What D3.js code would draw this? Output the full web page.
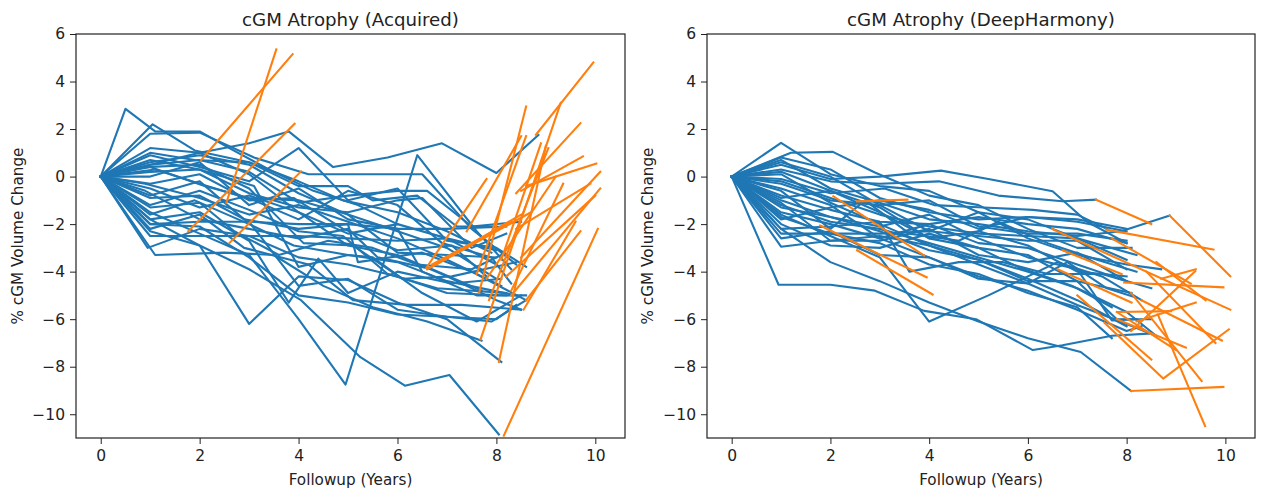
<!DOCTYPE html>
<html>
<head>
<meta charset="utf-8">
<script src="https://cdn.jsdelivr.net/npm/d3@7"></script>
<style>
  body { margin: 0; background: #fff; }
  svg { display: block; font-family: "DejaVu Sans", sans-serif; }
  .tick text { fill: #222; }
  .tick line { stroke: #222; }
</style>
</head>
<body>
<script>
const width = 1264;
const height = 496;

const titles = ["cGM Atrophy (Acquired)", "cGM Atrophy (DeepHarmony)"];
const xLabel = "Followup (Years)";
const yLabel = "% cGM Volume Change";
const xTicks = [0, 2, 4, 6, 8, 10];
const yTicks = [6, 4, 2, 0, -2, -4, -6, -8, -10];

// blue trajectories, acquired images: [years, % change]
const acquiredBlue = [
  [[0,0],[0.5,2.85],[1.1,1.9],[2,1.9],[2.6,1.2],[3.4,0.3],[4.3,-0.6],[5.2,-1.2],[6,-2.0]],
  [[0,0],[1.05,2.2],[1.9,1.1],[3,0.6],[4,-0.2],[4.9,-1.0],[6,-1.5],[7,-2.3],[7.9,-3.2]],
  [[0,0],[1,1.2],[2,1.0],[3,1.4],[3.8,1.9],[4.7,0.4],[5.8,0.8],[6.9,1.4],[8.0,0.15],[8.85,1.75]],
  [[0,0],[1,1.8],[2,1.85],[3.1,0.8],[4.2,0.1],[5.2,0.1],[6.5,0.1],[7.5,-2.2],[8.4,-3.7]],
  [[0,0],[1,0.9],[2,0.4],[3,-0.2],[4,1.2],[5,-1.0],[6,-0.5],[7,-2.7],[8,-3.0],[8.6,-3.8]],
  [[0,0],[1,0.5],[2,0.7],[3,0.2],[4,-1.1],[5,-0.8],[6,-0.6],[6.6,-0.6],[7.5,-2.1],[8.5,-1.9]],
  [[0,0],[1,0.6],[2,0.9],[3,0.5],[4,-0.7],[5,-1.6],[6,-2.3],[7,-3.0],[8,-4.3]],
  [[0,0],[0.9,-0.3],[2,-0.9],[3,-1.6],[4,-1.2],[5,-1.9],[6,-2.6],[7,-3.5],[8.1,-4.6]],
  [[0,0],[1,-0.8],[2,-0.2],[2.9,-1.8],[4,-2.2],[5,-2.0],[5.2,-3.6],[6.5,-3.2],[7.5,-4.0],[8.6,-5.2]],
  [[0,0],[1,-1.5],[2,-2.4],[3,-3.3],[4,-6.0],[4.95,-8.75],[6.4,0.9],[7.6,-2.3],[8.3,-3.9]],
  [[0,0],[1,-1.8],[2,-2.9],[3,-3.9],[4.05,-5.2],[5.25,-7.6],[6.15,-8.8],[7.05,-8.35],[8.05,-10.85]],
  [[0,0],[1,-2.3],[2,-2.9],[3,-6.2],[4,-4.2],[5,-4.35],[6,-5.3],[7,-6.0],[8.1,-7.8]],
  [[0,0],[1.1,-3.3],[2.5,-3.2],[3.5,-3.3],[4.5,-4.6],[5.5,-5.5],[6.6,-6.1],[7.7,-6.9]],
  [[0,0],[0.95,-3.0],[2,-2.2],[3,-2.5],[4,-3.4],[5,-3.7],[6,-4.2],[7,-4.9],[8.2,-5.0]],
  [[0,0],[1,-2.5],[2,-2.5],[3,-2.5],[4,-2.5],[5,-2.6],[6,-2.7],[7,-2.6],[8,-3.1]],
  [[0,0],[1,-2.0],[2,-1.9],[3,-1.9],[4,-2.0],[5,-2.0],[6,-2.2],[7,-2.2],[8.2,-2.1]],
  [[0,0],[1,-1.2],[2,-0.6],[3,-1.4],[4,-2.3],[4.9,-2.5],[5.8,-4.1],[6.8,-4.7],[8.2,-4.9]],
  [[0,0],[1.1,0.3],[2,-0.3],[3.1,-1.0],[4,-1.8],[5,-0.6],[6,-1.2],[6.9,-2.8],[7.9,-3.4],[8.3,-4.5]],
  [[0,0],[1,-0.5],[2,-1.3],[3,-0.8],[4,-1.5],[5,-2.9],[6,-3.3],[7,-4.2],[8,-5.2],[8.5,-5.6]],
  [[0,0],[1,0.2],[2,0.3],[3.1,-0.4],[4,-3.8],[5,-3.3],[5.5,-3.4],[6.5,-4.9],[7.6,-6.1],[8.5,-5.0]],
  [[0,0],[1,-1.8],[2,-1.5],[3,-2.7],[3.8,-5.3],[4.4,-3.45],[5.0,-4.9],[6.0,-4.0],[7.1,-4.5],[8.1,-4.3]],
  [[0,0],[1,-0.9],[2,-0.8],[3,-1.9],[4,-4.6],[5,-4.3],[6,-5.6],[7,-5.9],[7.9,-6.1],[8.6,-5.2]],
  [[0,0],[1,0.4],[2.1,-0.4],[3,-0.9],[4,-1.0],[5,-1.6],[6,-3.2],[7,-3.3],[8,-3.4]],
  [[0,0],[1,-1.6],[1.9,-1.0],[3,-2.0],[3.9,-2.9],[5,-3.3],[6,-3.6],[7,-4.4],[8.4,-5.0]],
  [[0,0],[1,0.0],[2,0.6],[3,-1.2],[4,-0.5],[5,-1.8],[6,-2.2],[6.5,-4.0],[7.6,-5.0],[8.6,-5.0]],
  [[0,0],[1,-2.2],[2,-1.6],[2.9,-3.0],[4.2,-3.7],[5.1,-5.2],[6.2,-5.4],[7.3,-5.4],[8.5,-5.6]],
  [[0,0],[1,0.7],[2,0.3],[3,-0.7],[4,-1.3],[5,-1.5],[6,-1.0],[6.5,-0.9],[7.5,-3.0],[8.2,-2.4]],
  [[0,0],[0.9,-0.6],[2,-1.8],[3,-2.2],[4,-2.6],[5,-2.2],[5.6,-3.4],[6.7,-3.9],[7.7,-4.8]],
  [[0,0],[1,-1.3],[2,-1.1],[2.7,-2.3],[3.6,-3.3],[4.6,-2.7],[5.5,-3.0],[6.4,-3.7],[7.5,-3.9],[8.1,-3.3]],
  [[0,0],[1,0.5],[2,1.0],[3,0.1],[4,-1.5],[5,-2.4],[6,-2.0],[7,-2.6],[8,-3.7]],
  [[0,0],[1,-2.0],[2,-2.1],[3,-3.4],[4,-5.0],[5,-5.3],[6,-5.8],[7,-5.9],[8,-6.0],[8.4,-5.4]],
  [[0,0],[1,1.0],[1.9,0.7],[3,0.6],[4,-0.4],[5,-0.4],[5.5,-1.0],[6.4,-0.8],[7.2,-2.1],[8.0,-2.1]],
  [[0,0],[1,-0.3],[2,0.1],[3,-1.0],[3.9,-0.9],[4.9,-2.2],[6,-3.1],[7.1,-2.9],[7.8,-4.2]],
  [[0,0],[0.9,0.4],[2,0.5],[3,-0.5],[4.1,-2.8],[5.1,-2.9],[6.1,-4.3],[7.1,-4.2],[8.4,-3.6]]
];

// orange segments, acquired images
const acquiredOrange = [
  [[1.77,-2.3],[3.92,2.22]],
  [[2.03,0.7],[3.88,5.15]],
  [[2.54,-1.1],[3.55,5.35]],
  [[2.6,-2.8],[4.05,0.22]],
  [[6.58,-3.85],[7.8,-0.1]],
  [[6.6,-3.9],[8.5,-1.6]],
  [[6.7,-3.7],[8.3,-1.9]],
  [[7.65,-4.9],[8.6,2.95]],
  [[7.6,-4.1],[8.6,1.7]],
  [[8.15,-10.9],[10.05,-2.2]],
  [[8.05,-7.8],[9.0,1.3]],
  [[7.68,-6.85],[9.3,3.1]],
  [[8.8,1.76],[9.96,4.8]],
  [[8.6,-0.4],[10.02,0.55]],
  [[8.5,-0.6],[9.75,0.85]],
  [[8.5,-3.4],[10.1,0.2]],
  [[8.3,-5.0],[10.1,-0.5]],
  [[8.4,-0.7],[9.7,2.25]],
  [[8.3,-4.8],[9.35,-0.3]],
  [[8.55,-5.6],[9.6,-1.9]],
  [[8.6,-5.2],[9.7,-2.3]],
  [[7.85,-5.2],[9.05,1.2]],
  [[8.1,-3.5],[8.9,1.4]],
  [[7.4,-2.3],[8.5,1.7]],
  [[8.2,-4.2],[10.0,-0.8]],
  [[7.8,-4.3],[9.2,0.0]],
  [[8.4,-2.2],[9.9,-0.3]],
  [[6.7,-3.8],[8.7,-1.5]]
];

// blue trajectories, DeepHarmony
const harmonyBlue = [
  [[0,0],[0.95,-4.55],[2,-4.55],[2.9,-4.8],[3.9,-5.65],[4.95,-6.0],[6.1,-7.3],[6.7,-7.1],[7.7,-6.7],[8.5,-6.6]],
  [[0,0],[1,-1.6],[2,-2.5],[3,-3.4],[4,-6.1],[5.2,-5.0],[6.6,-3.6],[7.5,-4.2],[8.3,-5.2]],
  [[0,0],[1,-2.2],[2,-3.6],[3,-4.4],[4,-5.3],[5,-6.1],[6,-6.8],[7.07,-7.38],[8.09,-9.02]],
  [[0,0],[1,1.42],[2,0.1],[3,-0.4],[4,-0.6],[5,-1.5],[6,-1.8],[7,-2.6],[8,-3.5]],
  [[0,0],[1.2,1.0],[2.05,1.04],[2.9,0.17],[4,-0.8],[5,-1.2],[6,-2.2],[7,-3.0],[8.1,-3.0]],
  [[0,0],[1,0.5],[2,-0.1],[3,0.0],[4.24,0.25],[5.2,-0.1],[6.5,-0.62],[7.2,-1.9],[8.0,-2.8]],
  [[0,0],[1,0.3],[2,-0.2],[3,-0.3],[4.2,-0.2],[5.4,-0.8],[6.7,-1.04],[7.38,-0.97]],
  [[0,0],[1,-0.2],[2,-0.9],[3,-1.6],[4,-2.1],[5,-2.4],[6,-2.5],[7,-2.6],[8.2,-3.3]],
  [[0,0],[1,-0.8],[2,-1.4],[3,-1.9],[4,-2.0],[5,-2.8],[6,-3.0],[7,-3.7],[8,-4.4]],
  [[0,0],[1,-1.2],[2,-1.9],[3,-2.2],[4,-2.8],[5,-3.4],[6,-4.0],[7,-4.7],[8,-5.7],[8.6,-6.7]],
  [[0,0],[1,-2.95],[2,-2.7],[3,-2.5],[4,-2.9],[5,-3.5],[6,-4.3],[7,-5.2],[8,-6.3]],
  [[0,0],[1,-2.4],[2,-2.4],[3,-2.4],[4,-2.3],[5,-2.5],[6,-2.7],[7,-2.7],[8,-3.9]],
  [[0,0],[1,0.7],[2,-0.5],[3,-1.1],[4,-1.8],[5,-2.0],[6,-2.3],[7,-2.5],[7.89,-2.3],[8.87,-1.64]],
  [[0,0],[1,-0.5],[2,-1.2],[3,-2.6],[4,-2.0],[5,-1.7],[6,-2.0],[7,-2.2],[8,-2.8]],
  [[0,0],[1,-1.0],[2,-1.7],[3,-2.3],[4,-3.1],[5,-3.5],[6,-4.4],[7,-4.4],[7.8,-6.0],[8.5,-6.0]],
  [[0,0],[1,-1.8],[2,-1.3],[3,-1.0],[4,-1.4],[5,-2.2],[6,-1.7],[7,-1.9],[8,-2.3]],
  [[0,0],[1,0.2],[2,-0.6],[3,-1.3],[4,-2.6],[5,-3.0],[6,-3.3],[7,-4.4],[8.1,-4.9]],
  [[0,0],[1,-0.6],[2,-2.2],[2.7,-1.0],[3.6,-2.4],[4.6,-2.7],[5.4,-1.9],[6.4,-2.8],[7.4,-3.5],[8.2,-4.0]],
  [[0,0],[1,-1.5],[2,-2.0],[3,-2.6],[4,-3.4],[5,-4.2],[6,-4.8],[7,-5.6],[8,-6.5],[8.3,-6.3]],
  [[0,0],[1,-2.0],[2,-2.9],[3,-3.0],[4,-2.4],[5,-3.0],[5.8,-3.8],[6.9,-4.6],[7.7,-5.5]],
  [[0,0],[1,0.8],[2,0.3],[3,-0.9],[4,-1.5],[5,-1.8],[6,-1.7],[7,-1.8],[8,-2.2]],
  [[0,0],[1,-0.3],[2,-1.0],[3,-1.2],[4,-2.3],[5,-1.5],[6,-2.6],[7,-3.3],[8,-3.7],[8.7,-3.9]],
  [[0,0],[1,-1.3],[2,-1.7],[3,-2.1],[4,-1.6],[5,-2.6],[6,-3.4],[7,-3.9],[7.7,-6.05],[8.2,-6.0]],
  [[0,0],[1,-0.9],[2,-0.6],[3,-1.5],[4,-2.6],[5,-2.3],[6,-2.9],[7,-4.0],[8,-4.2]],
  [[0,0],[1,0.1],[2,-1.1],[3,-2.0],[4,-2.9],[5,-3.7],[6,-4.5],[7,-5.4],[8,-6.2],[8.6,-6.7]],
  [[0,0],[1,-2.2],[2,-2.1],[3,-1.9],[3.6,-4.0],[4.6,-3.6],[5.5,-3.6],[6.4,-4.1],[7.5,-4.1],[8.5,-4.7]],
  [[0,0],[1,-0.1],[2,-0.7],[3.1,-0.5],[4.1,-1.2],[5.1,-1.3],[6.1,-1.4],[7.0,-1.6],[7.6,-2.2]],
  [[0,0],[1,-1.7],[2,-2.4],[3,-2.8],[4,-3.7],[5,-4.1],[6,-4.9],[7,-5.5],[7.7,-6.8]],
  [[0,0],[1,-2.6],[2,-2.3],[3,-3.3],[4,-3.4],[5,-4.3],[6,-4.5],[6.8,-3.6],[7.6,-4.7],[8.2,-5.1]],
  [[0,0],[1,0.6],[2,0.0],[3,-1.2],[4,-1.0],[5,-2.1],[6,-2.4],[7,-2.4],[8,-2.7]],
  [[0,0],[1,-1.1],[2,-2.7],[3,-2.7],[4,-2.2],[5,-3.3],[6,-3.6],[7,-3.2],[8,-4.4]]
];

// orange segments, DeepHarmony
const harmonyOrange = [
  [[1.79,-2.06],[3.95,-4.24]],
  [[2.06,-0.83],[3.9,-3.32]],
  [[2.54,-1.04],[3.56,-0.97]],
  [[2.54,-3.1],[4.07,-4.96]],
  [[7.38,-0.97],[8.5,-2.0]],
  [[7.58,-2.23],[9.76,-3.07]],
  [[6.49,-2.2],[10.1,-5.6]],
  [[8.87,-1.64],[10.1,-4.19]],
  [[8.09,-9.02],[9.96,-8.85]],
  [[8.63,-5.8],[9.59,-10.5]],
  [[7.55,-6.15],[8.74,-8.5],[10.07,-6.43]],
  [[8.09,-4.9],[9.52,-8.6]],
  [[7.0,-5.0],[8.5,-7.7]],
  [[8.3,-5.2],[9.93,-6.9]],
  [[8.09,-6.5],[9.39,-3.98]],
  [[7.95,-4.46],[9.96,-4.66]],
  [[7.82,-5.7],[8.9,-5.66]],
  [[6.7,-3.1],[7.9,-4.1]],
  [[6.6,-3.9],[8.1,-5.3]],
  [[7.8,-5.7],[9.0,-7.3]],
  [[8.4,-4.0],[9.8,-7.0]],
  [[8.2,-6.1],[9.4,-5.3]],
  [[8.6,-3.6],[9.6,-5.2]],
  [[7.8,-6.0],[9.2,-7.2]],
  [[8.7,-4.3],[9.4,-3.9]],
  [[7.7,-2.6],[9.3,-4.5]]
];

const svg = d3.select(document.body).append("svg")
  .attr("width", width)
  .attr("height", height);

const panels = [
  {x0: 76, x1: 625, title: titles[0], blue: acquiredBlue, orange: acquiredOrange, ylabX: 18},
  {x0: 707, x1: 1255, title: titles[1], blue: harmonyBlue, orange: harmonyOrange, ylabX: 648}
];
const plotTop = 34, plotBottom = 438;

panels.forEach((p, i) => {
  const x = d3.scaleLinear().domain([-0.5, 10.6]).range([p.x0, p.x1]);
  const y = d3.scaleLinear().domain([-11, 6]).range([plotBottom, plotTop]);
  const g = svg.append("g");

  const line = d3.line().x(d => x(d[0])).y(d => y(d[1]));

  const clipId = "clip" + i;
  g.append("clipPath").attr("id", clipId)
    .append("rect").attr("x", p.x0).attr("y", plotTop)
    .attr("width", p.x1 - p.x0).attr("height", plotBottom - plotTop);

  const marks = g.append("g").attr("clip-path", `url(#${clipId})`)
    .attr("fill", "none")
    .attr("stroke-width", 2.1)
    .attr("stroke-linejoin", "round")
    .attr("stroke-linecap", "square");

  marks.append("g").attr("stroke", "#1f77b4")
    .selectAll("path").data(p.blue).join("path").attr("d", line);
  marks.append("g").attr("stroke", "#ff7f0e")
    .selectAll("path").data(p.orange).join("path").attr("d", line);

  // axes
  g.append("g").attr("transform", `translate(0,${plotBottom})`)
    .call(d3.axisBottom(x).tickValues(xTicks).tickSize(6).tickPadding(6).tickFormat(d3.format("d")))
    .call(a => a.select(".domain").remove());
  g.append("g").attr("transform", `translate(${p.x0},0)`)
    .call(d3.axisLeft(y).tickValues(yTicks).tickSize(6).tickPadding(5)
      .tickFormat(d => d < 0 ? "\u2212" + Math.abs(d) : d))
    .call(a => a.select(".domain").remove());
  g.selectAll(".tick text").attr("font-family", "DejaVu Sans").attr("font-size", 15.5);

  g.append("rect")
    .attr("x", p.x0).attr("y", plotTop)
    .attr("width", p.x1 - p.x0).attr("height", plotBottom - plotTop)
    .attr("fill", "none").attr("stroke", "#222").attr("stroke-width", 1.2);

  g.append("text")
    .attr("x", (p.x0 + p.x1) / 2).attr("y", 26)
    .attr("text-anchor", "middle")
    .attr("font-size", 18.2).attr("fill", "#222")
    .text(p.title);

  g.append("text")
    .attr("x", (p.x0 + p.x1) / 2).attr("y", 485)
    .attr("text-anchor", "middle")
    .attr("font-size", 15.2).attr("fill", "#222")
    .text(xLabel);

  g.append("text")
    .attr("transform", `translate(${p.ylabX + 5},${(plotTop + plotBottom) / 2}) rotate(-90)`)
    .attr("text-anchor", "middle")
    .attr("font-size", 15.2).attr("fill", "#222")
    .text(yLabel);
});
</script>
</body>
</html>
